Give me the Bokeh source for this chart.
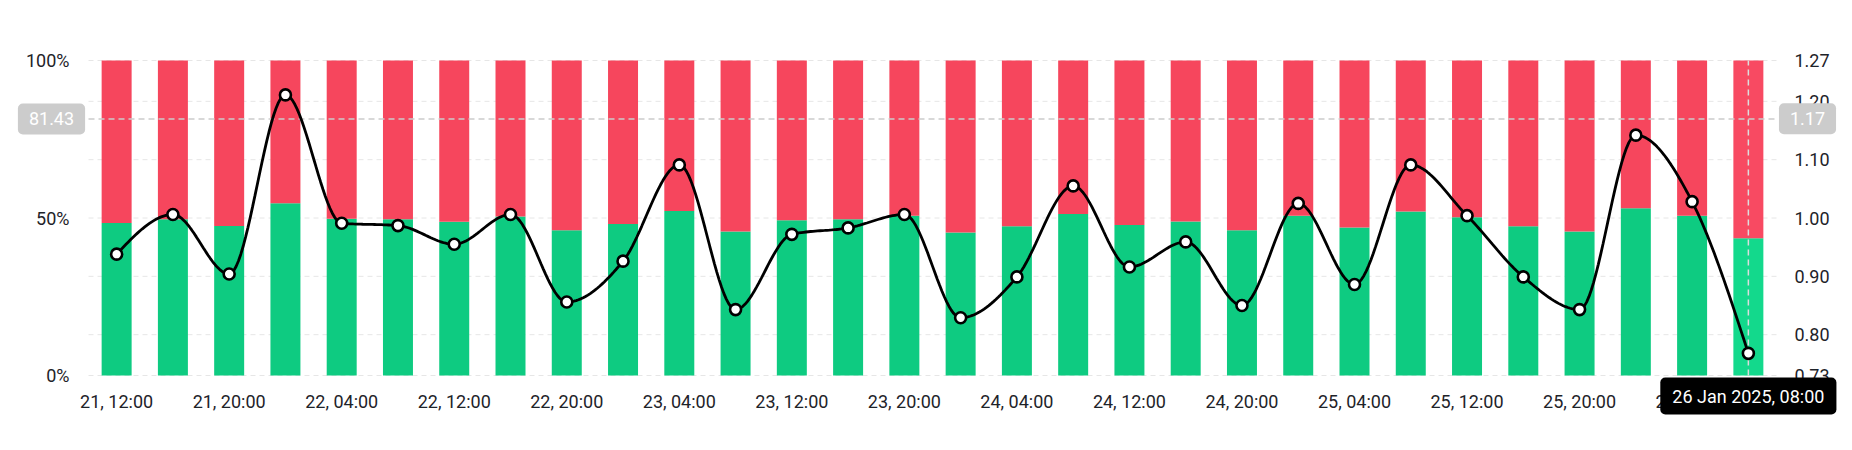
import numpy as np
from bokeh.plotting import figure
from bokeh.models import (Range1d, LinearAxis, FixedTicker, Label, ColumnDataSource)
from bokeh.embed import file_html
from bokeh.resources import INLINE

# ---------------- data ----------------
time_labels = [
    "21, 12:00", "21, 16:00", "21, 20:00", "22, 00:00", "22, 04:00", "22, 08:00",
    "22, 12:00", "22, 16:00", "22, 20:00", "23, 00:00", "23, 04:00", "23, 08:00",
    "23, 12:00", "23, 16:00", "23, 20:00", "24, 00:00", "24, 04:00", "24, 08:00",
    "24, 12:00", "24, 16:00", "24, 20:00", "25, 00:00", "25, 04:00", "25, 08:00",
    "25, 12:00", "25, 16:00", "25, 20:00", "26, 00:00", "26, 04:00", "26, 08:00",
]
long_pct = [48.4, 49.6, 47.5, 54.7, 49.8, 49.6, 48.8, 50.5, 46.1, 48.1,
            52.2, 45.7, 49.3, 49.6, 50.7, 45.4, 47.4, 51.3, 47.8, 48.9,
            46.1, 50.7, 47.0, 52.1, 50.2, 47.4, 45.7, 53.1, 50.7, 43.6]
ratio = [0.938, 1.006, 0.904, 1.211, 0.991, 0.987, 0.955, 1.006, 0.856, 0.926,
         1.091, 0.843, 0.972, 0.983, 1.006, 0.829, 0.899, 1.055, 0.916, 0.959,
         0.850, 1.025, 0.886, 1.091, 1.004, 0.899, 0.843, 1.142, 1.028, 0.768]
pct_ticks = [0, 50, 100]
pct_tick_labels = ["0%", "50%", "100%"]
ratio_ticks = [0.73, 0.80, 0.90, 1.00, 1.10, 1.20, 1.27]
ratio_tick_labels = ["0.73", "0.80", "0.90", "1.00", "1.10", "1.20", "1.27"]
ratio_min, ratio_max = 0.73, 1.27
cursor_index = 29
cursor_pct = 81.43
cursor_ratio = 1.17
cursor_text = "26 Jan 2025, 08:00"

GREEN, RED = "#0ecb81", "#f6465d"
GREEN_HI, RED_HI = "#13d98c", "#f84a62"
FONT = "Roboto"
TXT = "#1e2329"

n = len(long_pct)
xs = np.arange(n)
green_col = [GREEN] * n
red_col = [RED] * n
green_col[cursor_index] = GREEN_HI
red_col[cursor_index] = RED_HI
src = ColumnDataSource(dict(x=xs, long=long_pct, top=[100] * n,
                            gc=green_col, rc=red_col, ratio=ratio))


def monotone_curve(x, y, steps=24):
    x = np.asarray(x, float)
    y = np.asarray(y, float)
    h = np.diff(x)
    m = np.diff(y) / h
    t = np.zeros_like(y)
    for i in range(1, len(y) - 1):
        if m[i - 1] * m[i] <= 0:
            t[i] = 0.0
        else:
            p_ = (m[i - 1] * h[i] + m[i] * h[i - 1]) / (h[i - 1] + h[i])
            t[i] = (np.sign(m[i - 1]) + np.sign(m[i])) * min(abs(m[i - 1]), abs(m[i]), 0.5 * abs(p_))
    t[0] = (3 * m[0] - t[1]) / 2
    t[-1] = (3 * m[-1] - t[-2]) / 2
    cx, cy = [], []
    for i in range(len(y) - 1):
        s = np.linspace(0, 1, steps, endpoint=(i == len(y) - 2))
        h00 = 2 * s**3 - 3 * s**2 + 1
        h10 = s**3 - 2 * s**2 + s
        h01 = -2 * s**3 + 3 * s**2
        h11 = s**3 - s**2
        cx.extend(x[i] + s * h[i])
        cy.extend(h00 * y[i] + h10 * h[i] * t[i] + h01 * y[i + 1] + h11 * h[i] * t[i + 1])
    return cx, cy


curve_x, curve_y = monotone_curve(xs, ratio)

# ---------------- layout geometry ----------------
W, H = 1852, 450
FRAME_L, FRAME_R, FRAME_T, FRAME_B = 88, 1776, 60, 375   # the data area in pixels
px_x = (FRAME_R - FRAME_L) / n                    # pixels per category
px_pct = (FRAME_B - FRAME_T) / 100.0              # pixels per percent
px_rat = (FRAME_B - FRAME_T) / (ratio_max - ratio_min)

# The plot frame covers the whole canvas so that the cursor labels outside the
# data area are not clipped; ranges are widened so the data area sits at FRAME_*.
x0, x1 = -0.5, n - 0.5
xr = Range1d(x0 - FRAME_L / px_x, x1 + (W - FRAME_R) / px_x)
yr = Range1d(-(H - FRAME_B) / px_pct, 100 + FRAME_T / px_pct)
rr = Range1d(ratio_min - (H - FRAME_B) / px_rat, ratio_max + FRAME_T / px_rat)

p = figure(width=W, height=H, output_backend="svg", toolbar_location=None,
           x_range=xr, y_range=yr, min_border=0,
           background_fill_color="white", border_fill_color="white",
           outline_line_color=None)
p.extra_y_ranges = {"ratio": rr}
p.xgrid.visible = False
p.ygrid.visible = False
p.xaxis.visible = False
p.yaxis.visible = False


def style_axis(ax, standoff):
    ax.axis_line_color = None
    ax.major_tick_line_color = None
    ax.minor_tick_line_color = None
    ax.major_label_text_font = FONT
    ax.major_label_text_font_size = "18px"
    ax.major_label_text_color = TXT
    ax.major_label_standoff = standoff


left_ax = LinearAxis(ticker=FixedTicker(ticks=pct_ticks), fixed_location=x0,
                     major_label_overrides=dict(zip(pct_ticks, pct_tick_labels)))
style_axis(left_ax, 13)
p.add_layout(left_ax, "left")

right_ax = LinearAxis(y_range_name="ratio", ticker=FixedTicker(ticks=ratio_ticks),
                      fixed_location=x1,
                      major_label_overrides=dict(zip(ratio_ticks, ratio_tick_labels)))
style_axis(right_ax, 12)
p.add_layout(right_ax, "right")

x_ticks = list(range(0, n, 2))
bottom_ax = LinearAxis(ticker=FixedTicker(ticks=x_ticks), fixed_location=0,
                       major_label_overrides={i: time_labels[i] for i in x_ticks})
style_axis(bottom_ax, 9)
p.add_layout(bottom_ax, "below")

# dashed horizontal grid lines at the ratio ticks, spanning the data area
p.segment(x0=[x0] * len(ratio_ticks), x1=[x1] * len(ratio_ticks),
          y0=ratio_ticks, y1=ratio_ticks, y_range_name="ratio",
          line_color="#e6e6e6", line_dash="5 4", line_width=1)

bar_w = 0.533
p.vbar(x="x", bottom=0, top="long", width=bar_w, fill_color="gc", line_color=None, source=src)
p.vbar(x="x", bottom="long", top="top", width=bar_w, fill_color="rc", line_color=None, source=src)

# crosshair
p.segment(x0=[x0], x1=[x1], y0=[cursor_pct], y1=[cursor_pct],
          line_color="#cccccc", line_dash="6 4", line_width=1.5)
p.segment(x0=[cursor_index], x1=[cursor_index], y0=[0], y1=[100],
          line_color="#dddddd", line_dash="6 4", line_width=1.5)

p.line(curve_x, curve_y, y_range_name="ratio", line_color="black", line_width=2.8)
p.scatter("x", "ratio", y_range_name="ratio", source=src, size=11, fill_color="white",
          line_color="black", line_width=2.6)

# cursor labels
lbl_kw = dict(text_align="center", text_baseline="middle", text_color="white",
              text_font=FONT, text_font_size="18px", border_radius=5)
pad_gray = dict(left=11, right=11, top=9, bottom=9)
pad_black = dict(left=12, right=12, top=8, bottom=8)
p.add_layout(Label(x=x0 - 37 / px_x, y=cursor_pct, text=f"{cursor_pct:.2f}",
                   background_fill_color="#cccccc", padding=pad_gray, **lbl_kw))
p.add_layout(Label(x=x1 + 31 / px_x, y=cursor_ratio, y_range_name="ratio",
                   text=f"{cursor_ratio:.2f}",
                   background_fill_color="#cccccc", padding=pad_gray, **lbl_kw))
p.add_layout(Label(x=cursor_index, y=-20.5 / px_pct, text=cursor_text,
                   background_fill_color="black", padding=pad_black, **lbl_kw))

open("out.html", "w").write(file_html(p, INLINE))
